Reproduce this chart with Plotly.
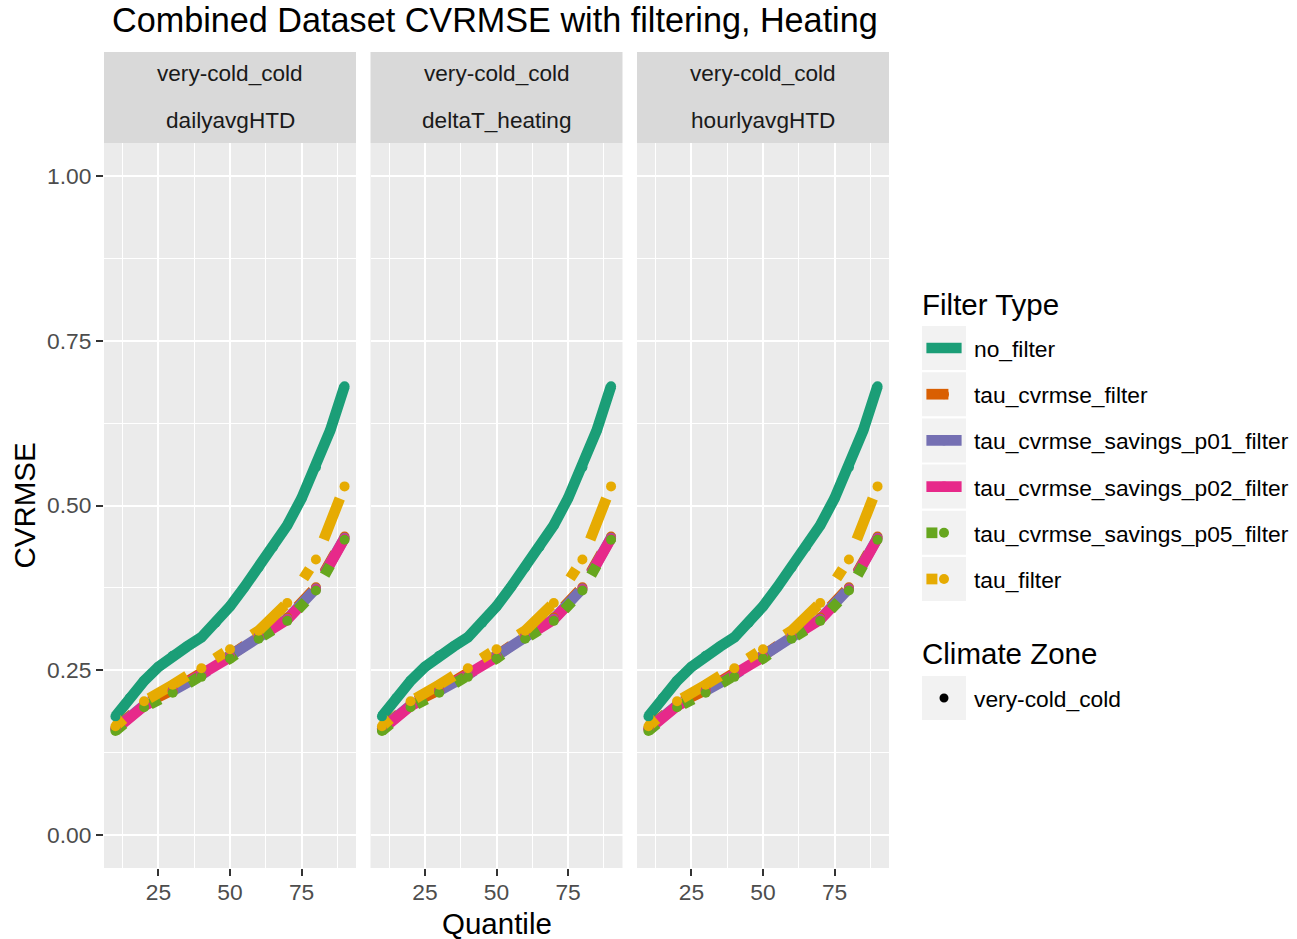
import plotly.graph_objects as go

# ---- data -------------------------------------------------------------
quantile = [10, 20, 30, 40, 50, 60, 70, 80, 90]
# the unfiltered series is sampled more finely
quantile_no_filter = [10, 15, 20, 25, 30, 35, 40, 45, 50, 55, 60, 65, 70, 75, 80, 85, 90]

no_filter = [0.180, 0.208, 0.234, 0.255, 0.272, 0.286, 0.300, 0.322, 0.347,
             0.376, 0.406, 0.437, 0.470, 0.511, 0.558, 0.614, 0.681]
tau_cvrmse_filter = [0.162, 0.199, 0.220, 0.244, 0.272, 0.302, 0.330, 0.376, 0.453]
tau_cvrmse_savings_p01_filter = [0.161, 0.197, 0.219, 0.243, 0.272, 0.302, 0.328, 0.374, 0.451]
tau_cvrmse_savings_p02_filter = [0.160, 0.196, 0.218, 0.242, 0.270, 0.300, 0.327, 0.373, 0.450]
tau_cvrmse_savings_p05_filter = [0.158, 0.194, 0.216, 0.240, 0.268, 0.298, 0.325, 0.371, 0.448]
tau_filter = [0.165, 0.203, 0.228, 0.253, 0.282, 0.310, 0.352, 0.418, 0.529]

filter_names = ["no_filter", "tau_cvrmse_filter", "tau_cvrmse_savings_p01_filter",
                "tau_cvrmse_savings_p02_filter", "tau_cvrmse_savings_p05_filter",
                "tau_filter"]
filter_x = [quantile_no_filter, quantile, quantile, quantile, quantile, quantile]
filter_values = [no_filter, tau_cvrmse_filter, tau_cvrmse_savings_p01_filter,
                 tau_cvrmse_savings_p02_filter, tau_cvrmse_savings_p05_filter,
                 tau_filter]
filter_colors = ["#1B9E77", "#D95F02", "#7570B3", "#E7298A", "#66A61E", "#E6AB02"]
# ggplot-style linetype digits: solid, 22, 42, 44, 13, 1343
filter_linetypes = ["", "22", "42", "44", "13", "1343"]

climate_zone = "very-cold_cold"
methods = ["dailyavgHTD", "deltaT_heating", "hourlyavgHTD"]

y_ticks = [0.0, 0.25, 0.5, 0.75, 1.0]
y_ticktext = ["0.00", "0.25", "0.50", "0.75", "1.00"]
x_ticks = [25, 50, 75]

# ---- styling ----------------------------------------------------------
W, H = 1297, 939
FONT = "Liberation Sans, Arial, sans-serif"
LW = 10.7        # data line width (px)
UNIT = 11.0      # dash unit, proportional to the line width
MS = 10          # point diameter (px)
TICK_SIZE = 22.8
STRIP_SIZE = 22.6
LEGEND_SIZE = 22.8
TITLE_SIZE = 29.5


def px_x(p):
    return p / W


def px_y(p):
    return 1 - p / H


def dash_of(code):
    if not code:
        return "solid"
    return ",".join(f"{int(c) * UNIT:g}px" for c in code)


panel_px = [(104, 356), (370.5, 622.5), (637, 889)]
panel_top, panel_bottom = 143, 868
strip_top = 52

fig = go.Figure()

for i, method in enumerate(methods):
    sfx = "" if i == 0 else str(i + 1)
    xa, ya = "x" + sfx, "y" + sfx
    # lines first, then points on top
    for name, xs, vals, col, lt in zip(filter_names, filter_x, filter_values,
                                       filter_colors, filter_linetypes):
        fig.add_trace(go.Scatter(
            x=xs, y=vals, mode="lines", xaxis=xa, yaxis=ya,
            line=dict(color=col, width=LW, dash=dash_of(lt)),
            name=name, showlegend=False, hoverinfo="skip"))
    for name, xs, vals, col in zip(filter_names, filter_x, filter_values, filter_colors):
        fig.add_trace(go.Scatter(
            x=xs, y=vals, mode="markers", xaxis=xa, yaxis=ya,
            marker=dict(color=col, size=MS, symbol="circle", line=dict(width=0)),
            name=name, showlegend=False,
            hovertemplate=f"{method}<br>{name}<br>Quantile %{{x}}<br>CVRMSE %{{y:.3f}}<extra></extra>"))

axis_common = dict(showgrid=True, gridcolor="white", gridwidth=2.4, zeroline=False,
                   showline=False, ticks="outside", ticklen=7, tickwidth=2,
                   tickcolor="#333333",
                   tickfont=dict(family=FONT, size=TICK_SIZE, color="#4D4D4D"))

layout = dict(
    width=W, height=H, autosize=False,
    margin=dict(l=0, r=0, t=0, b=0),
    paper_bgcolor="white", plot_bgcolor="#EBEBEB",
    showlegend=False,
)

for i, (l, r) in enumerate(panel_px):
    sfx = "" if i == 0 else str(i + 1)
    layout["xaxis" + sfx] = dict(
        axis_common, domain=[px_x(l), px_x(r)], range=[6, 94],
        tickvals=x_ticks, ticktext=[str(t) for t in x_ticks],
        anchor="y" + sfx, ticklabelstandoff=-3,
        minor=dict(tickvals=[12.5, 37.5, 62.5, 87.5], showgrid=True,
                   gridcolor="white", gridwidth=1.2, ticks=""))
    ydict = dict(
        axis_common, domain=[px_y(panel_bottom), px_y(panel_top)], range=[-0.05, 1.05],
        tickvals=y_ticks, ticktext=y_ticktext, anchor="x" + sfx,
        minor=dict(tickvals=[0.125, 0.375, 0.625, 0.875], showgrid=True,
                   gridcolor="white", gridwidth=1.2, ticks=""))
    if i > 0:
        ydict.update(showticklabels=False, ticks="")
    layout["yaxis" + sfx] = ydict

fig.update_layout(**layout)

shapes = []
annotations = []

# facet strips
for (l, r), method in zip(panel_px, methods):
    shapes.append(dict(type="rect", xref="paper", yref="paper",
                       x0=px_x(l), x1=px_x(r), y0=px_y(panel_top), y1=px_y(strip_top),
                       fillcolor="#D9D9D9", line=dict(width=0), layer="below"))
    cx = px_x((l + r) / 2)
    annotations.append(dict(text=climate_zone, x=cx, y=px_y(74), xref="paper", yref="paper",
                            showarrow=False, xanchor="center", yanchor="middle",
                            font=dict(family=FONT, size=STRIP_SIZE, color="#1A1A1A")))
    annotations.append(dict(text=method, x=cx, y=px_y(121), xref="paper", yref="paper",
                            showarrow=False, xanchor="center", yanchor="middle",
                            font=dict(family=FONT, size=STRIP_SIZE, color="#1A1A1A")))

# title and axis titles
annotations.append(dict(text="Combined Dataset CVRMSE with filtering, Heating",
                        x=px_x(110), y=px_y(20), xref="paper", yref="paper",
                        showarrow=False, xanchor="left", yanchor="middle",
                        font=dict(family=FONT, size=34.2, color="black")))
annotations.append(dict(text="Quantile", x=px_x((panel_px[0][0] + panel_px[2][1]) / 2),
                        y=px_y(923), xref="paper", yref="paper", showarrow=False,
                        xanchor="center", yanchor="middle",
                        font=dict(family=FONT, size=TITLE_SIZE, color="black")))
annotations.append(dict(text="CVRMSE", x=px_x(24), y=px_y((panel_top + panel_bottom) / 2),
                        xref="paper", yref="paper", showarrow=False, textangle=-90,
                        xanchor="center", yanchor="middle",
                        font=dict(family=FONT, size=TITLE_SIZE, color="black")))

# legend: Filter Type
key_l, key_r = 922, 966
annotations.append(dict(text="Filter Type", x=px_x(920), y=px_y(304), xref="paper",
                        yref="paper", showarrow=False, xanchor="left", yanchor="middle",
                        font=dict(family=FONT, size=TITLE_SIZE, color="black")))
row_centers = [348, 394.2, 440.4, 486.6, 532.8, 579]
for yc, name, col, lt in zip(row_centers, filter_names, filter_colors, filter_linetypes):
    shapes.append(dict(type="rect", xref="paper", yref="paper",
                       x0=px_x(key_l), x1=px_x(key_r), y0=px_y(yc + 22), y1=px_y(yc - 22),
                       fillcolor="#F2F2F2", line=dict(width=0)))
    shapes.append(dict(type="line", xref="paper", yref="paper",
                       x0=px_x(926.4), x1=px_x(961.6), y0=px_y(yc), y1=px_y(yc),
                       line=dict(color=col, width=LW, dash=dash_of(lt))))
    cx = (key_l + key_r) / 2
    shapes.append(dict(type="circle", xref="paper", yref="paper",
                       x0=px_x(cx - MS / 2), x1=px_x(cx + MS / 2),
                       y0=px_y(yc + MS / 2), y1=px_y(yc - MS / 2),
                       fillcolor=col, line=dict(width=0)))
    annotations.append(dict(text=name, x=px_x(971.5), y=px_y(yc + 1), xref="paper", yref="paper",
                            showarrow=False, xanchor="left", yanchor="middle",
                            font=dict(family=FONT, size=LEGEND_SIZE, color="black")))

# legend: Climate Zone
annotations.append(dict(text="Climate Zone", x=px_x(920), y=px_y(653), xref="paper",
                        yref="paper", showarrow=False, xanchor="left", yanchor="middle",
                        font=dict(family=FONT, size=TITLE_SIZE, color="black")))
cz_y = 698
shapes.append(dict(type="rect", xref="paper", yref="paper",
                   x0=px_x(key_l), x1=px_x(key_r), y0=px_y(cz_y + 22), y1=px_y(cz_y - 22),
                   fillcolor="#F2F2F2", line=dict(width=0)))
cx = (key_l + key_r) / 2
shapes.append(dict(type="circle", xref="paper", yref="paper",
                   x0=px_x(cx - 4.5), x1=px_x(cx + 4.5), y0=px_y(cz_y + 4.5), y1=px_y(cz_y - 4.5),
                   fillcolor="black", line=dict(width=0)))
annotations.append(dict(text=climate_zone, x=px_x(971.5), y=px_y(cz_y + 1), xref="paper",
                        yref="paper", showarrow=False, xanchor="left", yanchor="middle",
                        font=dict(family=FONT, size=LEGEND_SIZE, color="black")))

fig.update_layout(shapes=shapes, annotations=annotations)
fig.write_html("out.html")
